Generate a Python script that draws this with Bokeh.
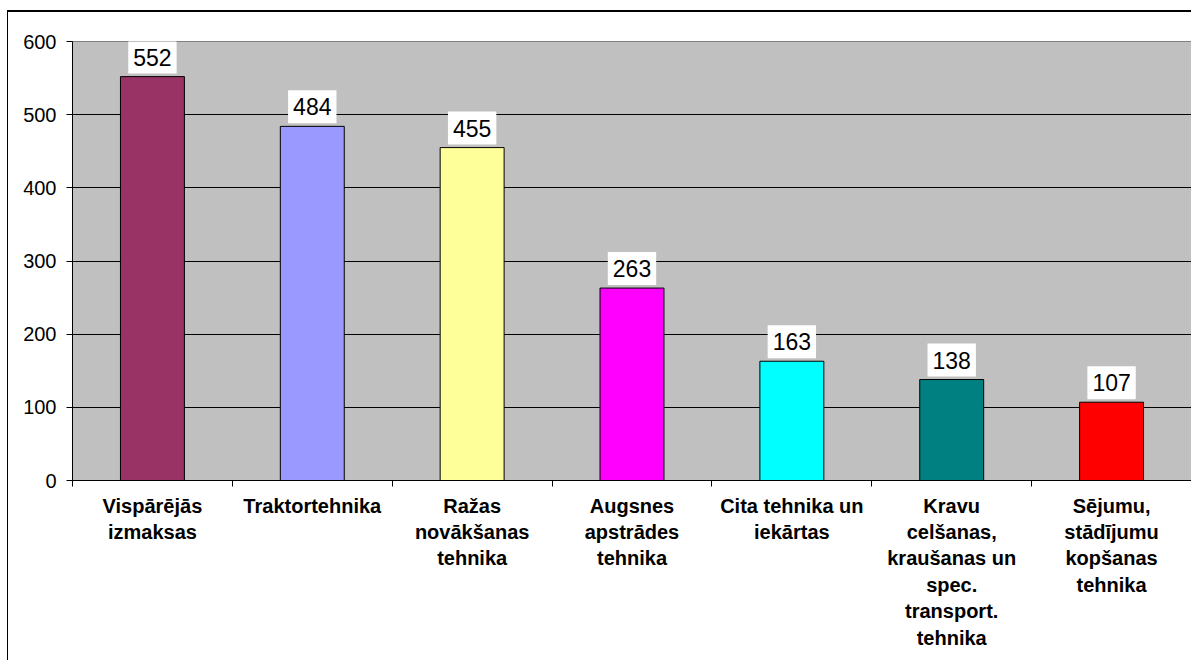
from bokeh.plotting import figure
from bokeh.models import ColumnDataSource, FixedTicker, Range1d
from bokeh.core.properties import value
from bokeh.embed import file_html
from bokeh.resources import INLINE

categories = [
    "Vispārējās\nizmaksas",
    "Traktortehnika",
    "Ražas\nnovākšanas\ntehnika",
    "Augsnes\napstrādes\ntehnika",
    "Cita tehnika un\niekārtas",
    "Kravu\ncelšanas,\nkraušanas un\nspec.\ntransport.\ntehnika",
    "Sējumu,\nstādījumu\nkopšanas\ntehnika",
]
values = [552, 484, 455, 263, 163, 138, 107]
colors = ["#993366", "#9999FF", "#FFFF99", "#FF00FF", "#00FFFF", "#008080", "#FF0000"]
y_ticks = [0, 100, 200, 300, 400, 500, 600]

n = len(categories)
xs = [i + 0.5 for i in range(n)]
src = ColumnDataSource(dict(x=xs, top=values, color=colors,
                            label=[str(v) for v in values]))

p = figure(width=1184, height=650, output_backend="svg", toolbar_location=None,
           x_range=Range1d(0, n), y_range=Range1d(0, 600),
           min_border_left=64, min_border_top=29, min_border_right=1,
           min_border_bottom=182)
p.styles = {"margin-left": "7px", "margin-top": "10px",
            "border-left": "1px solid black", "border-top": "2px solid black"}
p.background_fill_color = "#C0C0C0"
p.outline_line_color = "#808080"
p.outline_line_width = 1

p.vbar(x="x", top="top", width=0.4, bottom=0, source=src,
       fill_color="color", line_color="black", line_width=1)

p.text(x="x", y="top", text="label", source=src,
       text_align="center", text_baseline="bottom", y_offset=-3,
       text_font=value("Liberation Sans"), text_font_size="23px",
       text_color="black", background_fill_color="white",
       border_line_color=None,
       padding=dict(left=5, right=5, top=8, bottom=8))

# y axis
p.yaxis.ticker = FixedTicker(ticks=y_ticks)
p.yaxis.major_label_text_font = "Liberation Sans"
p.yaxis.major_label_text_font_size = "20px"
p.yaxis.major_label_text_color = "black"
p.yaxis.axis_line_color = "black"
p.yaxis.major_tick_line_color = "black"
p.yaxis.major_tick_in = 0
p.yaxis.major_tick_out = 6
p.yaxis.minor_tick_line_color = None
p.yaxis.major_label_standoff = 10

p.ygrid.ticker = FixedTicker(ticks=y_ticks[1:-1])
p.ygrid.grid_line_color = "black"
p.ygrid.grid_line_width = 1
p.xgrid.grid_line_color = None

# x axis: labels at category centres, ticks at boundaries
p.xaxis.ticker = FixedTicker(ticks=xs, minor_ticks=list(range(n + 1)))
p.xaxis.major_label_overrides = {x: c for x, c in zip(xs, categories)}
p.xaxis.major_label_text_font = "Liberation Sans"
p.xaxis.major_label_text_font_style = "bold"
p.xaxis.major_label_text_font_size = "20px"
p.xaxis.major_label_text_line_height = 1.2
p.xaxis.major_label_text_color = "black"
p.xaxis.major_tick_line_color = None
p.xaxis.minor_tick_line_color = "black"
p.xaxis.minor_tick_in = 0
p.xaxis.minor_tick_out = 6
p.xaxis.axis_line_color = "black"
p.xaxis.major_label_standoff = 8

open("out.html", "w").write(file_html(p, INLINE))
